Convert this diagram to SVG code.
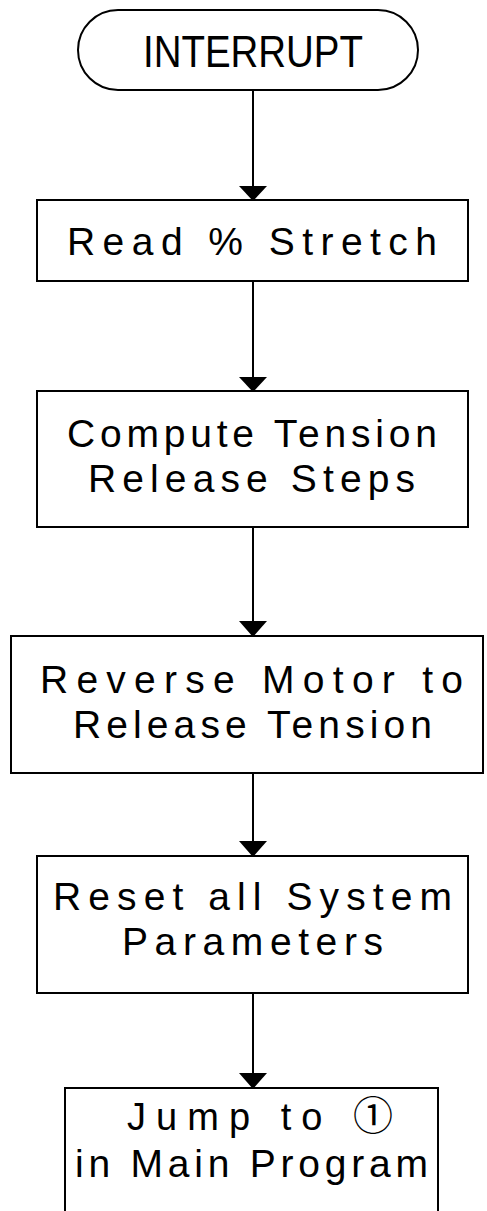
<svg xmlns="http://www.w3.org/2000/svg" width="487" height="1211" viewBox="0 0 487 1211">
  <style>
    .shape { fill: #ffffff; stroke: #000000; stroke-width: 2; }
    .open { fill: none; stroke: #000000; stroke-width: 2; }
    .line { stroke: #000000; stroke-width: 2; fill: none; }
    .head { fill: #000000; stroke: none; }
    .lbl { font-family: "Liberation Sans", "DejaVu Sans", "Noto Sans CJK JP", sans-serif; font-size: 39px; fill: #000000; }
    .circ { font-family: "Noto Sans CJK JP", "DejaVu Sans", sans-serif; font-size: 40px; }
  </style>
  <rect width="487" height="1211" fill="#ffffff"/>
  <g id="connectors">
    <line class="line" x1="253" y1="90" x2="253" y2="189"/>
    <polygon class="head" points="239,186 267,186 253,201"/>
    <line class="line" x1="253" y1="281" x2="253" y2="380"/>
    <polygon class="head" points="239,377 267,377 253,392"/>
    <line class="line" x1="253" y1="527" x2="253" y2="624"/>
    <polygon class="head" points="239,621 267,621 253,637"/>
    <line class="line" x1="253" y1="773" x2="253" y2="844"/>
    <polygon class="head" points="239,841 267,841 253,857"/>
    <line class="line" x1="253" y1="993" x2="253" y2="1076"/>
    <polygon class="head" points="239,1073 267,1073 253,1089"/>
  </g>
  <g id="interrupt">
    <rect class="shape" x="78" y="10" width="340" height="80" rx="40" ry="40"/>
    <text class="lbl" x="143" y="67" style="font-size:44px" textLength="220" lengthAdjust="spacingAndGlyphs">INTERRUPT</text>
  </g>
  <g id="read-stretch">
    <rect class="shape" x="37" y="200" width="431" height="81"/>
    <text class="lbl" x="67" y="255" textLength="370">Read % Stretch</text>
  </g>
  <g id="compute-steps">
    <rect class="shape" x="37" y="391" width="431" height="136"/>
    <text class="lbl" x="67" y="447" textLength="370">Compute Tension</text>
    <text class="lbl" x="88" y="492" textLength="327">Release Steps</text>
  </g>
  <g id="reverse-motor">
    <rect class="shape" x="11" y="636" width="472" height="137"/>
    <text class="lbl" x="40" y="693" textLength="423">Reverse Motor to</text>
    <text class="lbl" x="73" y="738" textLength="359">Release Tension</text>
  </g>
  <g id="reset-params">
    <rect class="shape" x="37" y="856" width="431" height="137"/>
    <text class="lbl" x="53" y="910" textLength="399">Reset all System</text>
    <text class="lbl" x="122" y="955" textLength="261">Parameters</text>
  </g>
  <g id="jump-main">
    <path class="open" d="M65,1215 V1088 H438 V1215"/>
    <text class="lbl" x="127" y="1130" style="font-size:38px" textLength="266">Jump to <tspan class="circ">①</tspan></text>
    <text class="lbl" x="75" y="1177" textLength="353">in Main Program</text>
  </g>
</svg>
